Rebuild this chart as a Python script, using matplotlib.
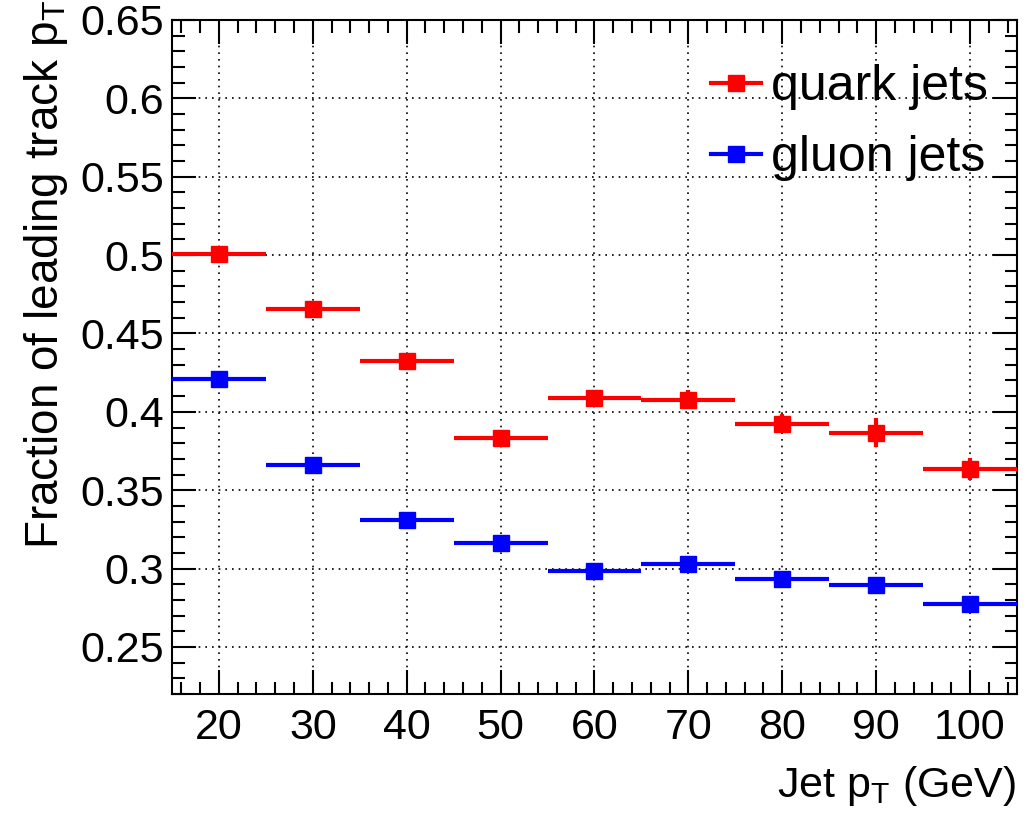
import matplotlib
matplotlib.use('Agg')
import matplotlib.pyplot as plt
from matplotlib.lines import Line2D
from matplotlib.ticker import MultipleLocator

plt.rcParams['font.family'] = ['Liberation Sans', 'DejaVu Sans']
plt.rcParams['mathtext.fontset'] = 'custom'
plt.rcParams['mathtext.rm'] = 'Liberation Sans'
plt.rcParams['mathtext.default'] = 'regular'

# data
jet_pt = [20, 30, 40, 50, 60, 70, 80, 90, 100]
bin_half_width = [5, 5, 5, 5, 5, 5, 5, 5, 5]
quark_frac = [0.501, 0.4655, 0.4325, 0.383, 0.409, 0.4077, 0.3925, 0.3868, 0.3637]
quark_err = [0.003, 0.004, 0.003, 0.005, 0.005, 0.006, 0.006, 0.009, 0.007]
gluon_frac = [0.4212, 0.3662, 0.3313, 0.3166, 0.2987, 0.3032, 0.2936, 0.2897, 0.2771]
gluon_err = [0.002, 0.002, 0.002, 0.002, 0.002, 0.003, 0.002, 0.002, 0.002]

fig = plt.figure(figsize=(10.31, 8.15), dpi=100)
ax = fig.add_axes([0.1668, 0.1485, 0.8196, 0.827])

for y, yerr, col in [(quark_frac, quark_err, 'red'), (gluon_frac, gluon_err, 'blue')]:
    ax.errorbar(jet_pt, y, xerr=bin_half_width, yerr=yerr, fmt='s', color=col,
                markersize=11.5, elinewidth=3, capsize=0, zorder=3)

ax.set_xlim(15, 105)
ax.set_ylim(0.22, 0.65)

ax.xaxis.set_major_locator(MultipleLocator(10))
ax.xaxis.set_minor_locator(MultipleLocator(2))
ax.yaxis.set_major_locator(MultipleLocator(0.05))
ax.yaxis.set_minor_locator(MultipleLocator(0.01))
ax.yaxis.set_major_formatter(plt.FuncFormatter(lambda v, p: ('%.2f' % v).rstrip('0').rstrip('.')))

ax.tick_params(which='both', direction='in', top=True, right=True, width=1.5,
               labelsize=31, colors='black')
ax.tick_params(which='major', length=17)
ax.tick_params(which='minor', length=9)
ax.tick_params(axis='x', which='major', pad=10)
ax.tick_params(axis='y', which='major', pad=6)
for s in ax.spines.values():
    s.set_linewidth(1.5)

ax.grid(True, which='major', linestyle=(0, (1, 3)), color='black', linewidth=1.2)
ax.set_axisbelow(True)

fig.text(0.045, 1.0, 'Fraction of leading track p$_{T}$', rotation=90,
         ha='center', va='top', fontsize=33)
fig.text(0.986, 0.022, 'Jet p$_{T}$ (GeV)', ha='right', va='baseline', fontsize=31)

handles = [Line2D([], [], color='red', marker='s', markersize=11.5, lw=3),
           Line2D([], [], color='blue', marker='s', markersize=11.5, lw=3)]
ax.legend(handles, ['quark jets', 'gluon jets'], loc='upper left',
          bbox_to_anchor=(0.665, 0.952), bbox_transform=fig.transFigure,
          frameon=False, fontsize=36, handlelength=1.0, handletextpad=0.2,
          labelspacing=0.5, borderpad=0)

fig.savefig('out.png', dpi=100)
